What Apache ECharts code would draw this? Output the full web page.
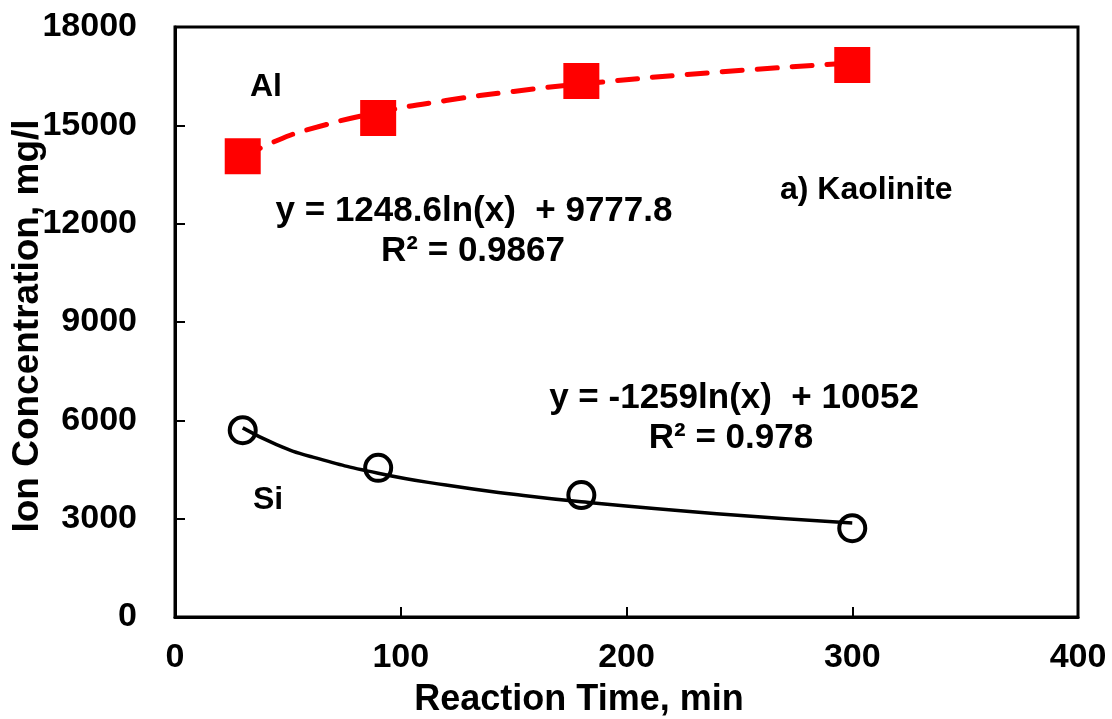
<!DOCTYPE html>
<html>
<head>
<meta charset="utf-8">
<script src="https://cdn.jsdelivr.net/npm/echarts@6/dist/echarts.min.js"></script>
<style>
html,body{margin:0;padding:0;background:#fff;}
#chart{width:1112px;height:719px;}
</style>
</head>
<body>
<div id="chart"></div>
<script>
// Measured data (reaction time in min)
const times = [30, 90, 180, 300];
const alValues = [14060, 15220, 16350, 16840];
const siValues = [5700, 4550, 3720, 2710];

// Logarithmic trendlines
const trendTimes = [30, 45, 60, 90, 120, 150, 180, 240, 300];
const alTrend = [14025, 14531, 14890, 15396, 15756, 16034, 16262, 16621, 16900];
const siTrend = [5770, 5259, 4897, 4387, 4025, 3744, 3514, 3152, 2871];

const xTicks = [0, 100, 200, 300, 400];
const yTicks = [0, 3000, 6000, 9000, 12000, 15000, 18000];

const xTitle = 'Reaction Time, min';
const yTitle = 'Ion Concentration, mg/l';

const FONT = '"Liberation Sans", Arial, sans-serif';

const pair = (xs, ys) => xs.map((x, i) => [x, ys[i]]);

const chart = echarts.init(document.getElementById('chart'), null, {renderer: 'canvas'});
const axisText = {color: '#000', fontSize: 34, fontWeight: 'bold', fontFamily: FONT, formatter: v => String(v)};

function txt(s, x, y, size, align, rot) {
  return {type: 'text', x: x, y: y, z: 10, rotation: rot || 0,
    style: {text: s, font: 'bold ' + size + 'px ' + FONT, fill: '#000', align: align || 'center', verticalAlign: 'middle'}};
}

chart.setOption({
  animation: false,
  backgroundColor: '#fff',
  grid: {left: 175, right: 34, top: 27, bottom: 102, show: true, borderColor: '#000', borderWidth: 3,
         containLabel: false, outerBoundsMode: 'none'},
  xAxis: {
    type: 'value', min: xTicks[0], max: xTicks[xTicks.length - 1], interval: 100,
    axisLine: {lineStyle: {color: '#000', width: 3}},
    axisTick: {inside: true, length: 10, lineStyle: {color: '#000', width: 2}},
    axisLabel: Object.assign({margin: 24}, axisText),
    splitLine: {show: false}
  },
  yAxis: {
    type: 'value', min: yTicks[0], max: yTicks[yTicks.length - 1], interval: 3000,
    axisLine: {lineStyle: {color: '#000', width: 3}},
    axisTick: {inside: true, length: 10, lineStyle: {color: '#000', width: 2}},
    axisLabel: Object.assign({margin: 38}, axisText),
    splitLine: {show: false}
  },
  series: [
    {
      name: 'Al trend', type: 'line', data: pair(trendTimes, alTrend), smooth: true,
      showSymbol: false, symbol: 'none', z: 2,
      lineStyle: {color: '#ff0000', width: 5, type: [20, 15], cap: 'round'}
    },
    {
      name: 'Si trend', type: 'line', data: pair(trendTimes, siTrend), smooth: true,
      showSymbol: false, symbol: 'none', z: 2,
      lineStyle: {color: '#000', width: 3.5}
    },
    {
      name: 'Al', type: 'scatter', data: pair(times, alValues), symbol: 'rect', symbolSize: 36, z: 3,
      itemStyle: {color: '#ff0000', opacity: 1}
    },
    {
      name: 'Si', type: 'scatter', data: pair(times, siValues), symbol: 'circle', symbolSize: 26, z: 3,
      itemStyle: {color: 'rgba(0,0,0,0)', borderColor: '#000', borderWidth: 4, opacity: 1}
    }
  ],
  graphic: [
    txt(xTitle, 579, 700, 36),
    txt(yTitle, 28, 326, 37, 'center', Math.PI / 2),
    txt('Al', 266, 87, 32),
    txt('a) Kaolinite', 780, 190, 32, 'left'),
    txt('y = 1248.6ln(x)  + 9777.8', 474, 211, 35),
    txt('R² = 0.9867', 473, 251, 35),
    txt('y = -1259ln(x)  + 10052', 734, 398, 35),
    txt('R² = 0.978', 731, 438, 35),
    txt('Si', 268, 500, 32)
  ]
});
</script>
</body>
</html>
